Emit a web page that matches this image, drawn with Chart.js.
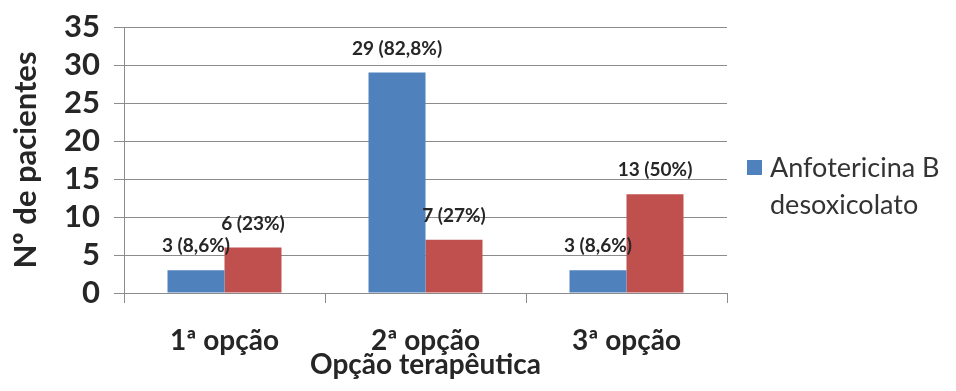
<!DOCTYPE html>
<html>
<head>
<meta charset="utf-8">
<script src="https://cdn.jsdelivr.net/npm/chart.js@4"></script>
<style>
    html, body { margin: 0; padding: 0; background: #fff; }
    #wrap { width: 956px; height: 391px; }
</style>
</head>
<body>
<div id="wrap"><canvas id="grafico" width="956" height="391"></canvas></div>
<script>
// Datos del gráfico
const categorias = ['1ª opção', '2ª opção', '3ª opção'];
const serieAnfo = [3, 29, 3];
const serieOutra = [6, 7, 13];
const rotulosAnfo = ['3 (8,6%)', '29 (82,8%)', '3 (8,6%)'];
const rotulosOutra = ['6 (23%)', '7 (27%)', '13 (50%)'];
const nomeAnfo = 'Anfotericina B desoxicolato';
const nomeOutra = '';
const ticksY = [0, 5, 10, 15, 20, 25, 30, 35];

const FONTE = 'Lato, "DejaVu Sans", sans-serif';
const COR_TEXTO = '#262626';
const COR_GRADE = '#8c8c8c';

// Rótulos acima das barras
const rotulosPlugin = {
    id: 'rotulos',
    afterDatasetsDraw(chart) {
        const ctx = chart.ctx;
        ctx.save();
        ctx.font = 'bold 19px ' + FONTE;
        ctx.fillStyle = COR_TEXTO;
        ctx.textAlign = 'center';
        ctx.textBaseline = 'middle';
        chart.data.datasets.forEach((ds, i) => {
            chart.getDatasetMeta(i).data.forEach((bar, j) => {
                ctx.fillText(ds.rotulos[j], bar.x, bar.y - 24);
            });
        });
        ctx.restore();
    }
};

// Legenda em duas linhas à direita
const legendaPlugin = {
    id: 'legenda',
    afterDraw(chart) {
        const ctx = chart.ctx;
        const ds = chart.data.datasets[0];
        const partes = ds.label.split(' ');
        const linha1 = partes.slice(0, 2).join(' ');
        const linha2 = partes.slice(2).join(' ');
        ctx.save();
        ctx.fillStyle = ds.backgroundColor;
        ctx.fillRect(747, 160, 15, 15);
        ctx.font = '27px ' + FONTE;
        ctx.fillStyle = '#333';
        ctx.textAlign = 'left';
        ctx.textBaseline = 'alphabetic';
        ctx.fillText(linha1, 770, 177);
        ctx.fillText(linha2, 770, 214);
        ctx.restore();
    }
};

new Chart(document.getElementById('grafico'), {
    type: 'bar',
    data: {
        labels: categorias,
        datasets: [
            {
                label: nomeAnfo,
                data: serieAnfo,
                rotulos: rotulosAnfo,
                backgroundColor: '#4f81bd',
                categoryPercentage: 0.567,
                barPercentage: 1
            },
            {
                label: nomeOutra,
                data: serieOutra,
                rotulos: rotulosOutra,
                backgroundColor: '#c0504d',
                categoryPercentage: 0.567,
                barPercentage: 1
            }
        ]
    },
    options: {
        responsive: false,
        animation: false,
        layout: { padding: { top: 27, right: 229, left: 0, bottom: 0 } },
        plugins: {
            legend: { display: false },
            tooltip: { enabled: false }
        },
        scales: {
            x: {
                afterFit(scale) {
                    scale.height = 98;
                    scale.paddingLeft = 0;
                    scale.paddingRight = 0;
                },
                grid: {
                    drawOnChartArea: false,
                    drawTicks: true,
                    tickLength: 10,
                    color: COR_GRADE
                },
                border: { color: COR_GRADE },
                ticks: {
                    color: COR_TEXTO,
                    padding: 21,
                    font: { family: FONTE, size: 28, weight: 'bold' }
                },
                title: {
                    display: true,
                    text: 'Opção terapêutica',
                    color: COR_TEXTO,
                    padding: { top: 0, bottom: 9 },
                    font: { family: FONTE, size: 28, weight: 'bold' }
                }
            },
            y: {
                min: 0,
                max: 35,
                afterFit(scale) {
                    scale.width = 124;
                    scale.paddingTop = 0;
                    scale.paddingBottom = 0;
                },
                afterBuildTicks(scale) { scale.ticks = ticksY.map(v => ({ value: v })); },
                grid: {
                    tickLength: 10,
                    color: COR_GRADE
                },
                border: { color: COR_GRADE },
                ticks: {
                    color: COR_TEXTO,
                    padding: 14,
                    autoSkip: false,
                    font: { family: FONTE, size: 31, weight: 'bold' }
                },
                title: {
                    display: true,
                    text: 'Nº de pacientes',
                    color: COR_TEXTO,
                    padding: { top: 7, bottom: 0 },
                    font: { family: FONTE, size: 31, weight: 'bold' }
                }
            }
        }
    },
    plugins: [rotulosPlugin, legendaPlugin]
});
</script>
</body>
</html>
